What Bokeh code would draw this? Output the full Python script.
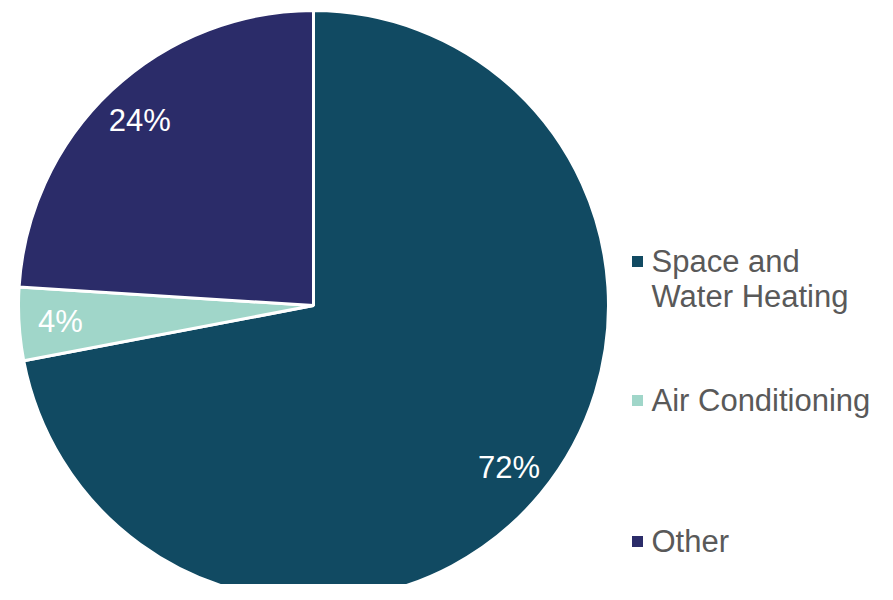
import math
from bokeh.plotting import figure
from bokeh.models import Range1d, ColumnDataSource
from bokeh.core.properties import value
from bokeh.embed import file_html
from bokeh.resources import INLINE

categories = ["Space and\nWater Heating", "Air Conditioning", "Other"]
shares = [72, 4, 24]
colors = ["#114a62", "#a0d6c9", "#2b2c69"]

W, H = 877, 584
p = figure(width=W, height=H, output_backend="svg", toolbar_location=None,
           x_range=Range1d(0, W), y_range=Range1d(0, H), min_border=0)
p.axis.visible = False
p.grid.visible = False
p.outline_line_color = None
p.background_fill_color = "white"

cx, cy, r = 313, 279, 295
total = sum(shares)
starts, ends, lx, ly, labels = [], [], [], [], []
cum = 0.0
for s in shares:
    a0 = math.pi / 2 - 2 * math.pi * cum / total
    a1 = math.pi / 2 - 2 * math.pi * (cum + s) / total
    starts.append(a0)
    ends.append(a1)
    mid = (a0 + a1) / 2
    lx.append(cx + 0.86 * r * math.cos(mid))
    ly.append(cy + 0.86 * r * math.sin(mid))
    labels.append(f"{s}%")
    cum += s

src = ColumnDataSource(dict(start=starts, end=ends, color=colors))
p.wedge(x=cx, y=cy, radius=r, start_angle="start", end_angle="end",
        direction="clock", fill_color="color", line_color="white",
        line_width=3, source=src)

p.text(x=lx, y=ly, text=labels, text_color="white", text_font=value("Liberation Sans"),
       text_font_size="31px", text_align="center", text_baseline="middle")

# legend
row_y = [323, 184, 43]
sq_x = 637
tx, ty, tt = [], [], []
for cat, yy in zip(categories, row_y):
    for i, line in enumerate(cat.split("\n")):
        tx.append(651)
        ty.append(yy - i * 35)
        tt.append(line)
p.rect(x=sq_x, y=row_y, width=11, height=11, fill_color=colors, line_color=None)
p.text(x=tx, y=ty, text=tt, text_color="#595959", text_font=value("Liberation Sans"),
       text_font_size="31px", text_align="left", text_baseline="middle")

open("out.html", "w").write(file_html(p, INLINE))
